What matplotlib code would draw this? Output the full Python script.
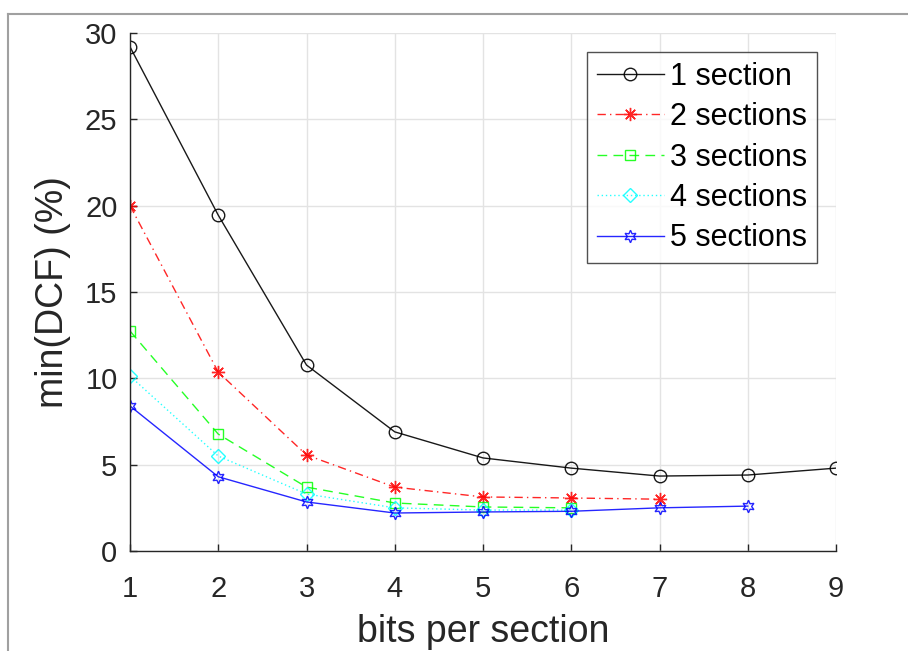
import matplotlib
matplotlib.use("Agg")
import matplotlib.pyplot as plt
from matplotlib.lines import Line2D

plt.rcParams['font.family'] = ['Liberation Sans', 'DejaVu Sans']

bits = [1, 2, 3, 4, 5, 6, 7, 8, 9]
labels = ["1 section", "2 sections", "3 sections", "4 sections", "5 sections"]
s1 = [29.2, 19.45, 10.77, 6.9, 5.39, 4.8, 4.34, 4.4, 4.8]
s2 = [20.0, 10.36, 5.56, 3.7, 3.13, 3.07, 3.0]
s3 = [12.74, 6.77, 3.7, 2.78, 2.55, 2.5]
s4 = [10.13, 5.5, 3.3, 2.5, 2.37, 2.37]
s5 = [8.4, 4.3, 2.84, 2.2, 2.26, 2.3, 2.5, 2.6]

series = [s1, s2, s3, s4, s5]
colors = ['#000000', '#ff0000', '#00ff00', '#00ffff', '#0000ff']
styles = ['-', (0, (6, 3, 1, 3)), (0, (7, 4.5)), (0, (1, 2)), '-']
markers = ['o', (8, 2, 0), 's', 'D', (6, 1, 0)]
msizes = [9, 9.5, 7.5, 7.5, 9]

fig = plt.figure(figsize=(9.08, 6.51), dpi=100)
ax = fig.add_axes([130/908, 1-551/651, (836-130)/908, (551-33)/651])

for vals, c, ls, m, ms, lab in zip(series, colors, styles, markers, msizes, labels):
    x = bits[:len(vals)]
    ax.plot(x, vals, color=c, linestyle=ls, marker=m, markersize=ms,
            markerfacecolor='none', markeredgecolor=c, markeredgewidth=1.0,
            linewidth=1.0, label=lab, alpha=0.85 if c != '#000000' else 0.9)

ax.set_xlim(1, 9)
ax.set_ylim(0, 30)
ax.set_xticks(bits)
ax.set_yticks([0, 5, 10, 15, 20, 25, 30])
ax.grid(True, color='#e3e3e3', linewidth=1.0)
ax.set_axisbelow(True)
for side in ['top', 'right']:
    ax.spines[side].set_visible(False)
for side in ['left', 'bottom']:
    ax.spines[side].set_color('#262626')
    ax.spines[side].set_linewidth(1.0)
ax.tick_params(direction='in', length=5, width=1.0, colors='#262626',
               labelsize=21, labelcolor='#262626')
ax.tick_params(axis='y', pad=9)
ax.tick_params(axis='x', pad=17)
ax.set_xlabel("bits per section", fontsize=27, color='#262626', labelpad=8)
ax.set_ylabel("min(DCF) (%)", fontsize=27, color='#262626', labelpad=10)

leg = ax.legend(loc='upper right', bbox_to_anchor=((817-130)/706, (551-52)/518),
                fontsize=22, frameon=True, fancybox=False, handlelength=2.2,
                handletextpad=0.2, borderpad=0.32, labelspacing=0.34,
                borderaxespad=0)
leg.get_frame().set_edgecolor('#262626')
leg.get_frame().set_linewidth(1.0)

# window border (top and left)
fig.add_artist(Line2D([8/908, 1], [1-14/651, 1-14/651], transform=fig.transFigure,
                      color='#a0a0a0', linewidth=1.5))
fig.add_artist(Line2D([8/908, 8/908], [0, 1-14/651], transform=fig.transFigure,
                      color='#a0a0a0', linewidth=1.5))

fig.savefig("out.png", dpi=100)
